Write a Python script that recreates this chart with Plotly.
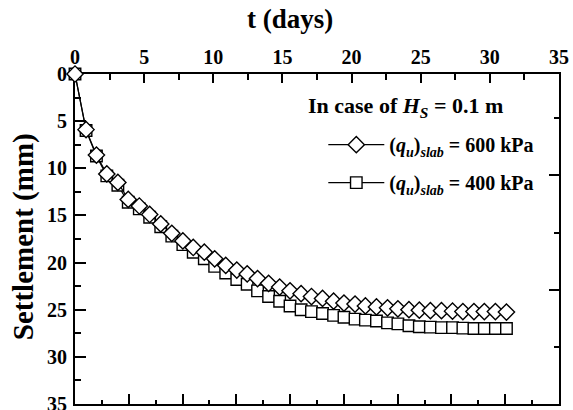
import plotly.graph_objects as go

# time (days)
t_days = [0, 0.8, 1.55, 2.3, 3.1, 3.85, 4.65, 5.4, 6.2, 7.0, 7.8, 8.55, 9.35, 10.1,
          10.9, 11.7, 12.45, 13.2, 14.0, 14.8, 15.55, 16.35, 17.1, 17.9, 18.7, 19.45,
          20.25, 21.0, 21.8, 22.6, 23.35, 24.15, 24.9, 25.7, 26.5, 27.3, 28.05, 28.85,
          29.6, 30.4, 31.2]

# settlement (mm), (q_u)_slab = 600 kPa
settle_600 = [0, 5.9, 8.6, 10.6, 11.5, 13.3, 14.0, 14.9, 15.9, 16.9, 17.7, 18.4, 18.9,
              19.6, 20.3, 20.8, 21.2, 21.7, 22.2, 22.6, 23.0, 23.3, 23.6, 23.8, 24.1,
              24.3, 24.4, 24.6, 24.7, 24.8, 24.9, 25.0, 25.05, 25.1, 25.1, 25.15, 25.2,
              25.2, 25.2, 25.2, 25.25]

# settlement (mm), (q_u)_slab = 400 kPa
settle_400 = [0, 6.0, 8.7, 10.8, 11.8, 13.6, 14.3, 15.2, 16.2, 17.2, 18.1, 18.9, 19.6,
              20.4, 21.1, 21.8, 22.3, 23.0, 23.6, 24.1, 24.6, 25.0, 25.2, 25.4, 25.6,
              25.8, 26.0, 26.1, 26.2, 26.4, 26.5, 26.7, 26.8, 26.85, 26.9, 26.9, 26.95,
              27.0, 27.0, 27.0, 27.0]

x_ticks = [0, 5, 10, 15, 20, 25, 30, 35]
y_ticks = [0, 5, 10, 15, 20, 25, 30, 35]
# tick marks of the frame's bottom and right edges (no labels in the original)
bottom_ticks = [1, 2, 3, 4, 5, 6, 7, 8]
right_ticks = [1, 2]

FONT = "Liberation Serif, Times New Roman, serif"
legend_title = "In case of <i>H<sub>S</sub></i> = 0.1 m"
name_600 = "(<i>q<sub>u</sub></i>)<sub><i>slab</i></sub> = 600 kPa"
name_400 = "(<i>q<sub>u</sub></i>)<sub><i>slab</i></sub> = 400 kPa"

fig = go.Figure()
fig.add_trace(go.Scatter(
    x=t_days, y=settle_400, mode="lines+markers", name=name_400,
    line=dict(color="black", width=1.2),
    marker=dict(symbol="square", size=11.5, color="white",
                line=dict(color="black", width=1.4)),
    cliponaxis=False, legendgroup="b", legendrank=2,
))
fig.add_trace(go.Scatter(
    x=t_days, y=settle_600, mode="lines+markers", name=name_600,
    line=dict(color="black", width=1.2),
    marker=dict(symbol="diamond", size=12.5, color="white",
                line=dict(color="black", width=1.4)),
    cliponaxis=False, legendgroup="a", legendrank=1,
))
# empty helper trace so the frame's secondary tick axes exist
fig.add_trace(go.Scatter(x=[], y=[], xaxis="x2", yaxis="y2",
                         showlegend=False, hoverinfo="skip"))

tf = dict(family=FONT, size=20, color="black", weight="bold")

fig.update_layout(
    width=573, height=410,
    margin=dict(l=75, r=14, t=74, b=6),
    paper_bgcolor="white", plot_bgcolor="white",
    font=dict(family=FONT, color="black"),
    showlegend=True,
    xaxis=dict(side="top", range=[0, 35], tickvals=x_ticks, automargin=False,
               ticklabeloverflow="allow",
               showline=True, linecolor="black", linewidth=2, mirror=True,
               ticks="inside", ticklen=9, tickwidth=1.5, tickcolor="black",
               minor=dict(ticks="inside", ticklen=6, tickwidth=1.5, dtick=2.5,
                          tickcolor="black"),
               showgrid=False, zeroline=False, tickfont=tf, layer="below traces"),
    yaxis=dict(range=[35, 0], tickvals=y_ticks, ticklabelstandoff=2, automargin=False,
               ticklabeloverflow="allow",
               showline=True, linecolor="black", linewidth=2, mirror=True,
               ticks="inside", ticklen=11, tickwidth=1.5, tickcolor="black",
               minor=dict(ticks="inside", ticklen=6, tickwidth=1.5, dtick=2.5,
                          tickcolor="black"),
               showgrid=False, zeroline=False, tickfont=tf, layer="below traces"),
    xaxis2=dict(overlaying="x", anchor="y2", side="bottom", range=[0, 9],
                tickvals=bottom_ticks, showticklabels=False, automargin=False,
                showline=False, ticks="inside", ticklen=10, tickwidth=1.5,
                tickcolor="black",
                minor=dict(ticks="inside", ticklen=4, tickwidth=1.5, dtick=0.5,
                           tickcolor="black"),
                showgrid=False, zeroline=False),
    yaxis2=dict(overlaying="y", anchor="x2", side="right", range=[0, 2.887],
                tickvals=right_ticks, showticklabels=False, automargin=False,
                showline=False, ticks="inside", ticklen=10, tickwidth=1.5,
                tickcolor="black",
                minor=dict(ticks="inside", ticklen=5, tickwidth=1.5, dtick=0.5,
                           tickcolor="black"),
                showgrid=False, zeroline=False),
    legend=dict(
        x=0.513, y=0.845, xanchor="left", yanchor="top",
        traceorder="grouped", tracegroupgap=9,
        bgcolor="rgba(0,0,0,0)",
        font=dict(family=FONT, size=20, color="black", weight="bold"),
        itemwidth=56,
    ),
    annotations=[
        dict(text="t (days)", xref="paper", yref="paper", x=0.444, y=1.168,
             xanchor="center", yanchor="middle", showarrow=False,
             font=dict(family=FONT, size=27, color="black", weight="bold")),
        dict(text="Settlement (mm)", xref="paper", yref="paper", x=-0.107, y=0.506,
             xanchor="center", yanchor="middle", showarrow=False, textangle=-90,
             font=dict(family=FONT, size=29, color="black", weight="bold")),
        dict(text=legend_title, xref="paper", yref="paper", x=0.682, y=0.9,
             xanchor="center", yanchor="middle", showarrow=False,
             font=dict(family=FONT, size=22, color="black", weight="bold")),
    ],
)

fig.write_html(
    "out.html",
    config={"displayModeBar": False},
    post_script="document.body.style.margin='0';document.body.style.padding='0';",
)
